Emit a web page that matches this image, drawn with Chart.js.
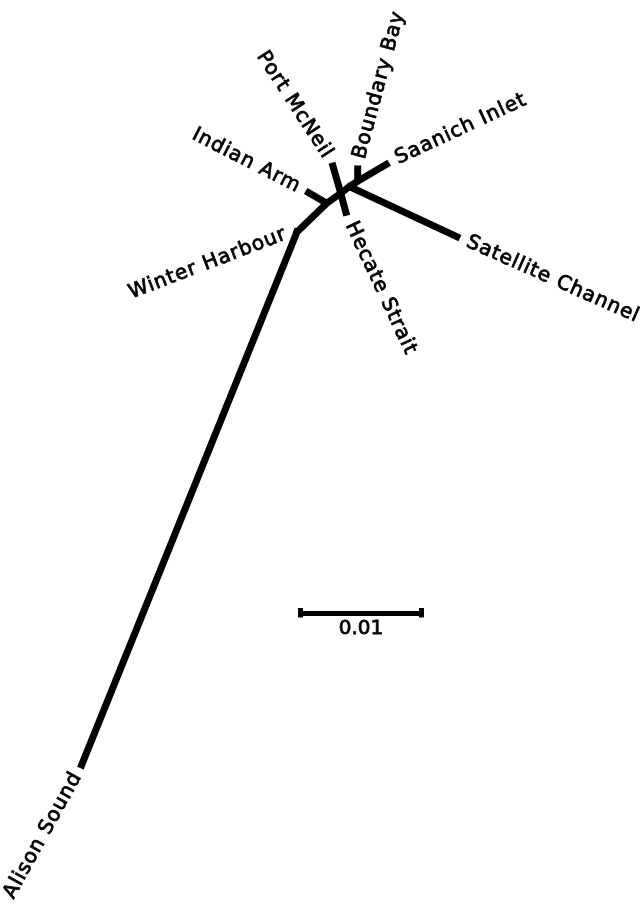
<!DOCTYPE html>
<html>
<head>
<meta charset="utf-8">
<script src="https://cdn.jsdelivr.net/npm/chart.js@4.4.1/dist/chart.umd.min.js"></script>
<style>
  html, body { margin: 0; padding: 0; background: #fff; }
  canvas { display: block; }
</style>
</head>
<body>
<canvas id="arbol" width="640" height="909"></canvas>
<script>
// unrooted tree: branches and their lengths (substitutions per site)
const taxa = ['Alison Sound', 'Winter Harbour', 'Indian Arm', 'Port McNeil', 'Hecate Strait', 'Satellite Channel', 'Saanich Inlet', 'Boundary Bay'];
const branchFrom = ['n1', 'n1', 'n1', 'n2', 'n2', 'n3', 'n3', 'n3', 'n4', 'n4', 'n5', 'n5'];
const branchTo = ['Alison Sound', 'Winter Harbour', 'n2', 'Indian Arm', 'n3', 'Port McNeil', 'Hecate Strait', 'n4', 'Satellite Channel', 'n5', 'Saanich Inlet', 'Boundary Bay'];
const branchLength = [0.0474, 0.0003, 0.0034, 0.0020, 0.0014, 0.0026, 0.0019, 0.0009, 0.0100, 0.0008, 0.0030, 0.0013];
const scaleBarValue = 0.01;
const scaleBarLabel = '0.01';

// drawing layout: branch directions in degrees (counter-clockwise from east)
const branchAngle = [-112, 160, 44, 150, 35.5, 106, -75, 38, -25, 32, 30.7, 90];
// label rotation on screen (clockwise), alignment and gap to the tip
const labelLayout = {
  'Alison Sound': { angle: -61, align: 'right', gap: 6 },
  'Winter Harbour': { angle: -21, align: 'right', gap: 8 },
  'Indian Arm': { angle: 27, align: 'right', gap: 7 },
  'Port McNeil': { angle: 57, align: 'right', gap: 7 },
  'Boundary Bay': { angle: -75, align: 'left', gap: 7 },
  'Saanich Inlet': { angle: -25, align: 'left', gap: 8 },
  'Satellite Channel': { angle: 24, align: 'left', gap: 8 },
  'Hecate Strait': { angle: 65, align: 'left', gap: 8 }
};

// node positions in tree units
const pos = { n1: { x: 0, y: 0 } };
branchFrom.forEach((f, i) => {
  const a = branchAngle[i] * Math.PI / 180;
  pos[branchTo[i]] = {
    x: pos[f].x + branchLength[i] * Math.cos(a),
    y: pos[f].y + branchLength[i] * Math.sin(a)
  };
});

const paths = [
  ['Alison Sound', 'n1', 'n2', 'n3', 'n4', 'Satellite Channel'],
  ['n1', 'Winter Harbour'],
  ['n2', 'Indian Arm'],
  ['Port McNeil', 'n3', 'Hecate Strait'],
  ['n4', 'n5', 'Saanich Inlet'],
  ['n5', 'Boundary Bay']
];

const k = scaleBarValue / 122; // tree units per pixel
const bar = { x: 3 * k, y: -381.5 * k };

const datasets = paths.map(p => ({
  data: p.map(n => ({ x: pos[n].x, y: pos[n].y })),
  showLine: true,
  borderColor: '#000',
  borderWidth: 7,
  borderJoinStyle: 'miter',
  pointRadius: 0,
  clip: false
}));
datasets.push({
  data: [{ x: bar.x, y: bar.y }, { x: bar.x + scaleBarValue, y: bar.y }],
  showLine: true,
  borderColor: '#000',
  borderWidth: 5,
  pointRadius: 0,
  clip: false
});

const etiquetas = {
  id: 'etiquetas',
  afterDatasetsDraw(chart) {
    const { ctx, scales: { x, y } } = chart;
    ctx.save();
    ctx.fillStyle = '#000';
    ctx.strokeStyle = '#000';
    ctx.lineWidth = 0.8;
    ctx.font = '20px "DejaVu Sans"';
    ctx.letterSpacing = '1px';
    ctx.textBaseline = 'middle';
    taxa.forEach(name => {
      const L = labelLayout[name];
      const px = x.getPixelForValue(pos[name].x);
      const py = y.getPixelForValue(pos[name].y);
      const a = L.angle * Math.PI / 180;
      const s = L.align === 'left' ? 1 : -1;
      ctx.save();
      ctx.translate(px + s * L.gap * Math.cos(a), py + s * L.gap * Math.sin(a));
      ctx.rotate(a);
      ctx.textAlign = L.align;
      ctx.fillText(name, 0, 0);
      ctx.strokeText(name, 0, 0);
      ctx.restore();
    });
    // scale bar end caps and label
    const bx0 = x.getPixelForValue(bar.x);
    const bx1 = x.getPixelForValue(bar.x + scaleBarValue);
    const by = y.getPixelForValue(bar.y);
    ctx.fillRect(bx0 - 2, by - 5.5, 5, 9.5);
    ctx.fillRect(bx1 - 3, by - 5.5, 5, 9.5);
    ctx.letterSpacing = '0px';
    ctx.textAlign = 'center';
    ctx.fillText(scaleBarLabel, (bx0 + bx1) / 2, by + 15.5);
    ctx.strokeText(scaleBarLabel, (bx0 + bx1) / 2, by + 15.5);
    ctx.restore();
  }
};

new Chart(document.getElementById('arbol').getContext('2d'), {
  type: 'scatter',
  data: { datasets },
  options: {
    responsive: false,
    animation: false,
    devicePixelRatio: 1,
    layout: { padding: 0 },
    plugins: { legend: { display: false }, tooltip: { enabled: false } },
    scales: {
      x: { display: false, min: -297 * k, max: 343 * k },
      y: { display: false, min: -677 * k, max: 232 * k }
    }
  },
  plugins: [etiquetas]
});
</script>
</body>
</html>
